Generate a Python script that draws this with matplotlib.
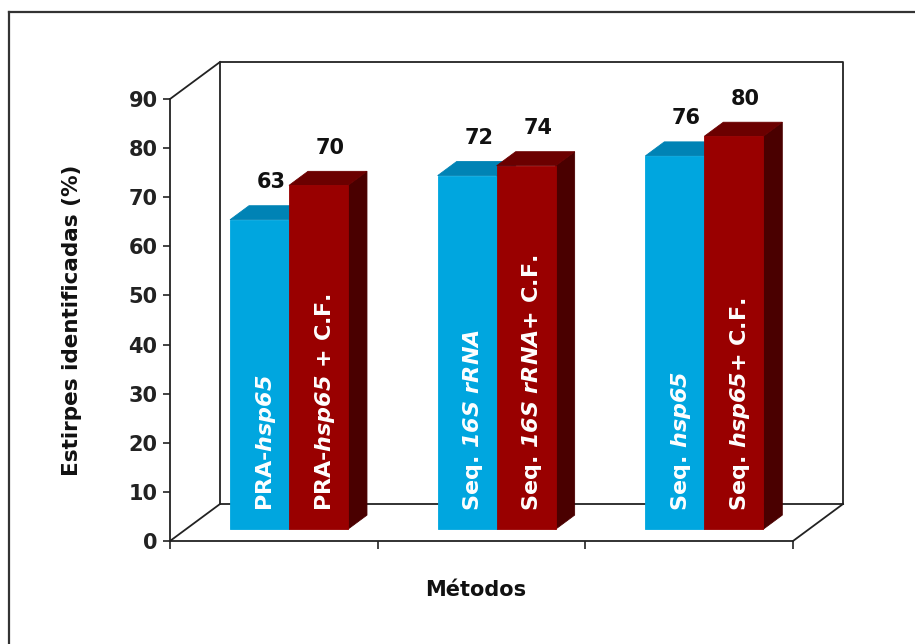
import matplotlib
matplotlib.use("Agg")
import matplotlib.pyplot as plt
from matplotlib.patches import Polygon
from matplotlib.lines import Line2D

# dados
metodos = ["PRA-hsp65", "Seq. 16S rRNA", "Seq. hsp65"]
sem_cf = [63, 72, 76]
com_cf = [70, 74, 80]
rot_azul = [r"PRA-$\mathit{hsp65}$", r"Seq. $\mathit{16S\ rRNA}$", r"Seq. $\mathit{hsp65}$"]
rot_verm = [r"PRA-$\mathit{hsp65}$ + C.F.", r"Seq. $\mathit{16S\ rRNA}$+ C.F.", r"Seq. $\mathit{hsp65}$+ C.F."]
yticks = list(range(0, 91, 10))

plt.rcParams["font.family"] = "DejaVu Sans"
plt.rcParams["font.weight"] = "bold"
plt.rcParams["axes.labelweight"] = "bold"
plt.rcParams["mathtext.fontset"] = "custom"
plt.rcParams["mathtext.it"] = "DejaVu Sans:italic:bold"
plt.rcParams["mathtext.rm"] = "DejaVu Sans:italic:bold"

# profundidade do "3D" em unidades de dados
DX, DY = 0.2407, 7.53
Z0, Z1 = 0.32, 0.70
W = 0.284
fs = 15
cor_linha = "#222222"

fig = plt.figure(figsize=(9.15, 6.44), dpi=100)
ax = fig.add_axes([170 / 915, 103 / 644, 623 / 915, 442 / 644])
ax.set_xlim(0, 3)
ax.set_ylim(0, 90)
ax.set_yticks(yticks)
ax.set_xticks(range(len(metodos) + 1))
ax.set_xticklabels([])
ax.tick_params(axis="y", direction="out", length=5, width=1.2, pad=4,
               labelsize=fs, colors=cor_linha)
ax.tick_params(axis="x", direction="out", length=6, width=1.2, colors=cor_linha)
for s in ["top", "right"]:
    ax.spines[s].set_visible(False)
for s in ["left", "bottom"]:
    ax.spines[s].set_linewidth(1.3)
    ax.spines[s].set_color(cor_linha)
ax.patch.set_visible(False)

ax.set_ylabel("Estirpes identificadas (%)", fontsize=15.5, color="#111111")
ax.yaxis.set_label_coords(-0.157, 0.5)
ax.yaxis.label.set_va("center")
ax.set_xlabel("Métodos", fontsize=fs, color="#111111")
ax.xaxis.set_label_coords(0.49, -0.111)
ax.xaxis.label.set_va("center")

# parede de fundo e chao
kw = dict(color=cor_linha, lw=1.3, clip_on=False, zorder=1)
ax.plot([DX, DX, 3 + DX, 3 + DX], [DY, 90 + DY, 90 + DY, DY], **kw)
ax.plot([DX, 3 + DX], [DY, DY], **kw)
ax.plot([0, DX], [0, DY], **kw)
ax.plot([3, 3 + DX], [0, DY], **kw)
ax.plot([0, DX], [90, 90 + DY], **kw)


def barra(x0, h, c_frente, c_topo, c_lado):
    ox0, oy0 = Z0 * DX, Z0 * DY
    ox1, oy1 = Z1 * DX, Z1 * DY
    frente = [(x0 + ox0, oy0), (x0 + W + ox0, oy0), (x0 + W + ox0, h + oy0), (x0 + ox0, h + oy0)]
    topo = [(x0 + ox0, h + oy0), (x0 + W + ox0, h + oy0), (x0 + W + ox1, h + oy1), (x0 + ox1, h + oy1)]
    lado = [(x0 + W + ox0, oy0), (x0 + W + ox1, oy1), (x0 + W + ox1, h + oy1), (x0 + W + ox0, h + oy0)]
    for pts, c in [(lado, c_lado), (topo, c_topo), (frente, c_frente)]:
        ax.add_patch(Polygon(pts, closed=True, facecolor=c, edgecolor=c,
                             lw=0.6, clip_on=False, zorder=3))


for i in range(len(metodos)):
    xa = i + 0.212
    xv = xa + W
    barra(xa, sem_cf[i], "#00A6DF", "#0083B5", "#006A93")
    barra(xv, com_cf[i], "#990000", "#6B0000", "#4A0000")
    for x0, v, txt in [(xa, sem_cf[i], rot_azul[i]), (xv, com_cf[i], rot_verm[i])]:
        ax.text(x0 + W / 2 + 0.55 * DX, v + Z1 * DY + 4.8, str(v), ha="center",
                va="center", fontsize=fs, color="#111111", zorder=5, clip_on=False)
        ax.text(x0 + W / 2 + Z0 * DX + 0.03, Z0 * DY + 3.6, txt, rotation=90,
                rotation_mode="anchor", ha="left", va="center", fontsize=16,
                color="white", zorder=5)

# moldura externa
fig.add_artist(Line2D([9 / 915, 9 / 915], [0, 1 - 12 / 644], color="#333333", lw=1.6))
fig.add_artist(Line2D([9 / 915, 1], [1 - 12 / 644, 1 - 12 / 644], color="#333333", lw=1.6))

fig.savefig("out.png", dpi=100)
